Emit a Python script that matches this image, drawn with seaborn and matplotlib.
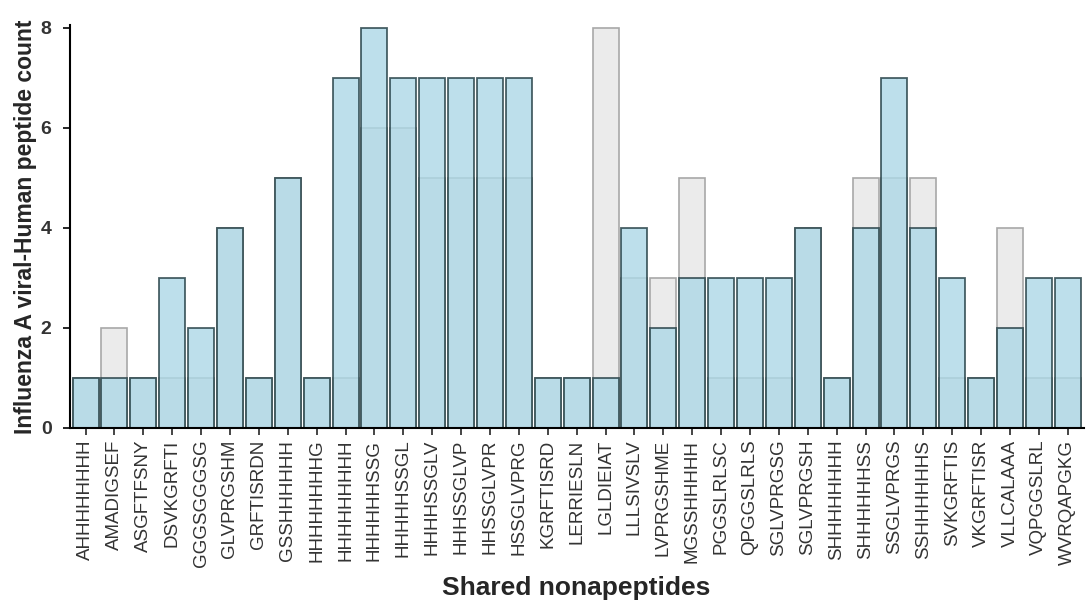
import pandas as pd
import matplotlib.pyplot as plt
import seaborn as sns

# Shared nonapeptides and their counts (two overlaid series)
peptides = ['AHHHHHHHH', 'AMADIGSEF', 'ASGFTFSNY', 'DSVKGRFTI', 'GGGSGGGSG',
            'GLVPRGSHM', 'GRFTISRDN', 'GSSHHHHHH', 'HHHHHHHHG', 'HHHHHHHHH',
            'HHHHHHSSG', 'HHHHHSSGL', 'HHHHSSGLV', 'HHHSSGLVP', 'HHSSGLVPR',
            'HSSGLVPRG', 'KGRFTISRD', 'LERRIESLN', 'LGLDIEIAT', 'LLLSIVSLV',
            'LVPRGSHME', 'MGSSHHHHH', 'PGGSLRLSC', 'QPGGSLRLS', 'SGLVPRGSG',
            'SGLVPRGSH', 'SHHHHHHHH', 'SHHHHHHSS', 'SSGLVPRGS', 'SSHHHHHHS',
            'SVKGRFTIS', 'VKGRFTISR', 'VLLCALAAA', 'VQPGGSLRL', 'WVRQAPGKG']
grey_counts = [1, 2, 1, 1, 1, 4, 1, 5, 1, 1,
               6, 6, 5, 5, 5, 5, 1, 1, 8, 3,
               3, 5, 1, 1, 1, 4, 1, 5, 5, 5,
               1, 1, 4, 1, 1]
blue_counts = [1, 1, 1, 3, 2, 4, 1, 5, 1, 7,
               8, 7, 7, 7, 7, 7, 1, 1, 1, 4,
               2, 3, 3, 3, 3, 4, 1, 4, 7, 4,
               3, 1, 2, 3, 3]

df = pd.DataFrame({'peptide': peptides, 'grey': grey_counts, 'blue': blue_counts})

sns.set_style('white')
plt.rcParams['font.family'] = ['Liberation Sans', 'DejaVu Sans']

fig, ax = plt.subplots(figsize=(10.88, 6.01), dpi=100)
sns.barplot(data=df, x='peptide', y='grey', color='#ebebeb', saturation=1,
            edgecolor='#a8a8a8', linewidth=1.2, width=0.9, ax=ax)
sns.barplot(data=df, x='peptide', y='blue', color='#add8e6', saturation=1,
            alpha=0.8, edgecolor='#1f3a40', linewidth=1.3, width=0.9, ax=ax)

ax.set_xlim(-0.55, len(peptides) - 0.45)
ax.set_ylim(0, 8.05)
ax.set_yticks([0, 2, 4, 6, 8])
ax.tick_params(axis='y', labelsize=14, length=5, width=1.2, pad=8,
               colors='black', labelcolor='#333333', left=True)
ax.tick_params(axis='x', labelsize=13.5, length=5, width=1.2, bottom=True,
               labelcolor='#333333', rotation=90)
for t in ax.get_yticklabels():
    t.set_fontweight('bold')
sns.despine(ax=ax)
for s in ['left', 'bottom']:
    ax.spines[s].set_linewidth(1.5)
    ax.spines[s].set_color('black')

ax.set_xlabel('Shared nonapeptides', fontsize=19, fontweight='bold', labelpad=6)
ax.set_ylabel('Influenza A viral-Human peptide count', fontsize=16.5, fontweight='bold',
              labelpad=3)

plt.subplots_adjust(left=0.064, right=0.996, top=0.958, bottom=0.288)
plt.savefig('out.png', dpi=100)
